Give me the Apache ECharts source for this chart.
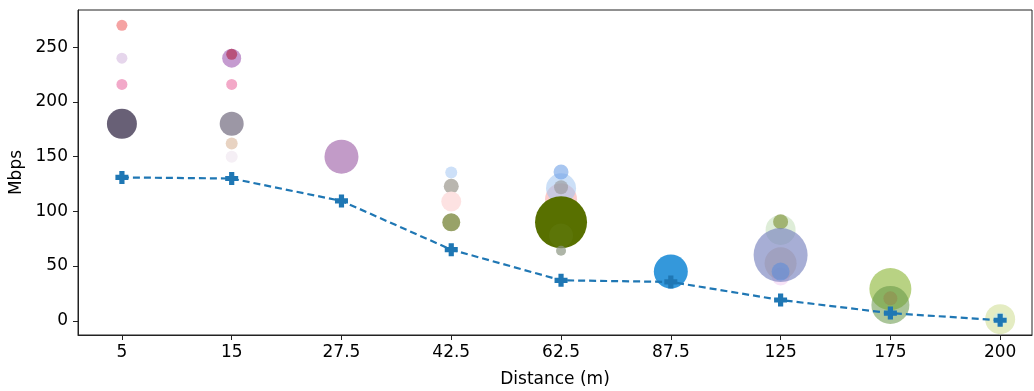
<!DOCTYPE html>
<html>
<head>
<meta charset="utf-8">
<script src="https://cdn.jsdelivr.net/npm/echarts@6/dist/echarts.min.js"></script>
<style>
  html, body { margin: 0; padding: 0; background: #fff; }
  #chart { width: 1034px; height: 391px; }
</style>
</head>
<body>
<div id="chart"></div>
<script>
// categories on the x axis
const distances = ["5", "15", "27.5", "42.5", "62.5", "87.5", "125", "175", "200"];
const yTicks = [0, 50, 100, 150, 200, 250];

// average throughput (dashed line)
const avgMbps = [131, 130, 109.5, 65, 37, 35.5, 19, 7, 0.5];

// bubbles: category index, Mbps, bubble size
const bubbleCat = [0, 0, 0, 0, 1, 1, 1, 1, 1, 1, 2, 3, 3, 3, 3, 4, 4, 4, 4, 4, 4, 4, 5, 6, 6, 6, 6, 6, 6, 7, 7, 7, 8, 8];
const bubbleMbps = [270, 240, 216, 180, 240, 243.5, 216, 180, 162, 150, 150, 135.5, 123, 109, 90, 111, 121, 136, 122, 90, 78, 64, 45, 40.5, 83, 90.5, 60, 52.5, 45, 29, 14.5, 20.5, 1.5, 1.5];
const bubbleSize = [11, 11, 11, 30, 19, 11, 11, 24, 12, 12, 34, 12, 15, 20, 18, 32, 30, 15, 14, 52, 24, 10, 34, 18, 30, 15, 54, 32, 18, 42, 38, 14, 30, 14];
const bubbleColor = [
  "#f5a3a3", "#e6d6ec", "#f2a9c9", "#686076",
  "#c59bd0", "#b8527c", "#f3a9c8", "#9c97a5", "#e8d3c2", "#f5eff5",
  "#c29bc8",
  "#cde0f8", "#b9b6af", "#fde2e2", "#98a268",
  "rgba(250,170,170,0.6)", "rgba(160,196,240,0.55)", "rgba(110,160,230,0.6)", "rgba(150,150,150,0.6)", "#587000", "rgba(110,140,40,0.2)", "rgba(140,150,130,0.7)",
  "#3498db",
  "rgba(240,200,240,0.5)", "rgba(200,225,190,0.6)", "rgba(140,160,80,0.75)", "rgba(120,130,190,0.65)", "rgba(150,140,160,0.4)", "rgba(90,140,220,0.55)",
  "rgba(160,195,90,0.75)", "rgba(100,150,70,0.55)", "rgba(150,120,70,0.4)",
  "#e4ecc2", "rgba(200,235,235,0.6)"
];

const bubbleData = bubbleCat.map((c, i) => ({
  value: [c, bubbleMbps[i], bubbleSize[i]],
  itemStyle: { color: bubbleColor[i] },
}));
const lineData = avgMbps.map((v, i) => [i, v]);
const catIdx = distances.map((d, i) => i);

const font = "DejaVu Sans";
const chart = echarts.init(document.getElementById("chart"));
chart.setOption({
  animation: false,
  grid: {
    left: 78,
    right: 2,
    top: 10,
    bottom: 56,
    outerBoundsMode: "none",
    containLabel: false,
    show: true,
    borderColor: "#222",
    borderWidth: 1,
    backgroundColor: "transparent",
  },
  xAxis: {
    type: "value",
    min: -0.4,
    max: 8.29,
    name: "Distance (m)",
    nameLocation: "middle",
    nameGap: 36,
    nameTextStyle: { color: "#000", fontSize: 17, fontFamily: font },
    axisLine: { show: true, onZero: false, lineStyle: { color: "#222", width: 1 } },
    axisTick: { show: true, length: 5, customValues: catIdx, lineStyle: { color: "#222" } },
    axisLabel: {
      customValues: catIdx,
      formatter: (v) => distances[Math.round(v)],
      color: "#000",
      fontSize: 17,
      fontFamily: font,
      margin: 9,
    },
    splitLine: { show: false },
  },
  yAxis: {
    type: "value",
    min: -13,
    max: 284,
    name: "Mbps",
    nameLocation: "middle",
    nameGap: 52,
    nameTextStyle: { color: "#000", fontSize: 17, fontFamily: font },
    axisLine: { show: true, onZero: false, lineStyle: { color: "#222", width: 1 } },
    axisTick: { show: true, length: 5, customValues: yTicks, lineStyle: { color: "#222" } },
    axisLabel: {
      customValues: yTicks,
      color: "#000",
      fontSize: 17,
      fontFamily: font,
      margin: 10,
    },
    splitLine: { show: false },
  },
  series: [
    {
      type: "scatter",
      data: bubbleData,
      symbolSize: (d) => d[2],
      itemStyle: { opacity: 1 },
      z: 2,
    },
    {
      type: "line",
      data: lineData,
      symbol: "path://M1.5,0H3.5V1.5H5V3.5H3.5V5H1.5V3.5H0V1.5H1.5Z",
      symbolSize: 13,
      itemStyle: { color: "#1f77b4" },
      lineStyle: { color: "#1f77b4", width: 2.2, type: [7, 4] },
      z: 5,
    },
  ],
});
</script>
</body>
</html>
